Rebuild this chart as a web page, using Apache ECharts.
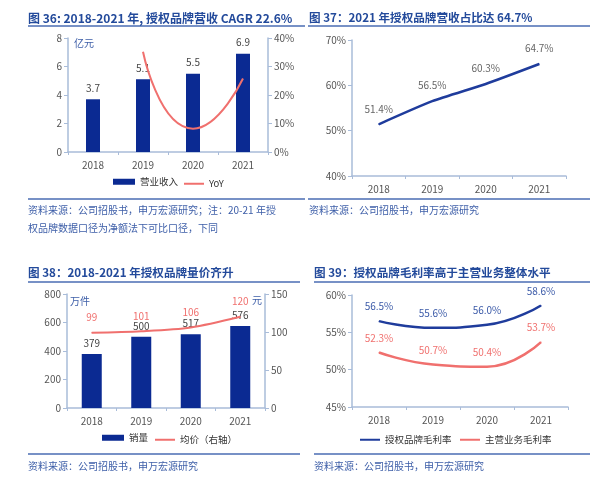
<!DOCTYPE html>
<html><head><meta charset="utf-8">
<script src="https://cdn.jsdelivr.net/npm/echarts@6/dist/echarts.min.js"></script>
<style>html,body{margin:0;padding:0;background:#fff}#c{width:600px;height:494px}</style>
</head><body><div id="c"></div>
<script>
const years = ['2018','2019','2020','2021'];
// Fig 36
const revenue = [3.7, 5.1, 5.5, 6.9];
const revenueYoY = ['-', 35.2, 8.2, 25.8];
// Fig 37
const share = [51.4, 56.5, 60.3, 64.7];
// Fig 38
const volume = [379, 500, 517, 576];
const avgPrice = [99, 101, 106, 120];
// Fig 39
const brandMargin = [56.5, 55.6, 56.0, 58.6];
const mainMargin = [52.3, 50.7, 50.4, 53.7];

const titles = ['图 36: 2018-2021 年, 授权品牌营收 CAGR 22.6%', '图 37：2021 年授权品牌营收占比达 64.7%', '图 38：2018-2021 年授权品牌量价齐升', '图 39：授权品牌毛利率高于主营业务整体水平'];
const sources = ['资料来源：公司招股书，申万宏源研究；注：20-21 年授', '权品牌数据口径为净额法下可比口径，下同', '资料来源：公司招股书，申万宏源研究'];
const units = ['亿元', '万件', '元'];

const FONT = '"Noto Sans CJK SC", "Noto Sans", sans-serif';
const BLUE = '#0b2a92';
const LINEBLUE = '#1f3c9c';
const RED = '#f0706e';
const AXIS = '#a9bcd9';
const TITLEC = '#234a9b';
const SRC = '#3d5ea8';
const LAB = '#555';

const chart = echarts.init(document.getElementById('c'));

function xAx(gi) {
  return {type:'category', gridIndex:gi, data:years, boundaryGap:true,
    axisLine:{lineStyle:{color:AXIS, width:1.5}},
    axisTick:{show:true, length:3, lineStyle:{color:AXIS}},
    axisLabel:{color:LAB, fontSize:10, fontFamily:FONT, margin:8}};
}
function yAx(gi, min, max, interval, fmt, pos) {
  return {type:'value', gridIndex:gi, min:min, max:max, interval:interval, position:pos||'left',
    splitLine:{show:false},
    axisLine:{show:true, lineStyle:{color:AXIS, width:1.5}},
    axisTick:{show:true, length:4, lineStyle:{color:AXIS}},
    axisLabel:{color:LAB, fontSize:10, fontFamily:FONT, margin:6, formatter:fmt||'{value}'}};
}

const lineStyleG = {stroke:'#4a6cb3', lineWidth:1.5};
function hline(x1,x2,y){return {type:'line', shape:{x1:x1,y1:y,x2:x2,y2:y}, style:lineStyleG, silent:true};}
function txt(x,y,t,size,color){return {type:'text', left:x, top:y, style:{text:t, fill:color||SRC, font:(size||10)+'px '+FONT}, silent:true};}

const legText = {color:'#333', fontSize:9.5, fontFamily:FONT};
function barLeg(left, top, name){return {left:left, top:top, padding:0, itemWidth:22, itemHeight:6, data:[{name:name, icon:'rect'}], textStyle:legText};}
function lineLeg(left, top, name){return {left:left, top:top, padding:0, itemWidth:20, itemHeight:2, data:[{name:name, icon:'rect'}], textStyle:legText};}

const pctFmt = p => p.value.toFixed(1) + '%';

const option = {
  animation:false,
  backgroundColor:'#fff',
  title: [
    {text:titles[0], left:28, top:12, fs:12},
    {text:titles[1], left:309, top:12, fs:11.6},
    {text:titles[2], left:28, top:267, fs:11.6},
    {text:titles[3], left:314, top:267, fs:11.6}
  ].map(t=>({text:t.text, left:t.left, top:t.top, padding:0, textStyle:{color:TITLEC, fontSize:t.fs, fontWeight:'bold', fontFamily:FONT}})),
  grid: [
    {left:68, top:38, width:200, height:114},
    {left:352, top:40, width:214, height:136},
    {left:67, top:294, width:198, height:114},
    {left:352, top:295, width:216, height:112}
  ],
  xAxis: [xAx(0), xAx(1), xAx(2), xAx(3)],
  yAxis: [
    yAx(0,0,8,2),
    yAx(0,0,40,10,'{value}%','right'),
    yAx(1,40,70,10,'{value}%'),
    yAx(2,0,800,200),
    yAx(2,0,150,50,'{value}','right'),
    yAx(3,45,60,5,'{value}%')
  ],
  legend: [
    barLeg(113, 177, '营业收入'),
    lineLeg(184, 179, 'YoY'),
    barLeg(102, 433, '销量'),
    lineLeg(155, 435, '均价（右轴）'),
    lineLeg(360, 435, '授权品牌毛利率'),
    lineLeg(460, 435, '主营业务毛利率')
  ],
  series: [
    {name:'营业收入', type:'bar', xAxisIndex:0, yAxisIndex:0, data:revenue, barWidth:14, itemStyle:{color:BLUE},
      label:{show:true, position:'top', color:'#444', fontSize:10, fontFamily:FONT, distance:6}},
    {name:'YoY', type:'line', xAxisIndex:0, yAxisIndex:1, data:revenueYoY, smooth:0.6, symbol:'none', lineStyle:{color:RED, width:2}, itemStyle:{color:RED}},
    {name:'占比', type:'line', xAxisIndex:1, yAxisIndex:2, data:share, smooth:0.2, symbol:'circle', symbolSize:1, lineStyle:{color:LINEBLUE, width:2.5}, itemStyle:{color:LINEBLUE},
      label:{show:true, position:'top', distance:10, color:'#666', fontSize:10, fontFamily:FONT, formatter:pctFmt}},
    {name:'销量', type:'bar', xAxisIndex:2, yAxisIndex:3, data:volume, barWidth:20, itemStyle:{color:BLUE},
      label:{show:true, position:'top', color:'#444', fontSize:10, fontFamily:FONT, distance:6}},
    {name:'均价（右轴）', type:'line', xAxisIndex:2, yAxisIndex:4, data:avgPrice, smooth:0.3, symbol:'circle', symbolSize:1, lineStyle:{color:RED, width:2}, itemStyle:{color:RED},
      label:{show:true, position:'top', distance:10, color:RED, fontSize:10, fontFamily:FONT}},
    {name:'授权品牌毛利率', type:'line', xAxisIndex:3, yAxisIndex:5, data:brandMargin, smooth:0.5, symbol:'circle', symbolSize:1, lineStyle:{color:LINEBLUE, width:2.5}, itemStyle:{color:LINEBLUE},
      label:{show:true, position:'top', distance:9, color:'#3b5aa8', fontSize:10, fontFamily:FONT, formatter:pctFmt}},
    {name:'主营业务毛利率', type:'line', xAxisIndex:3, yAxisIndex:5, data:mainMargin, smooth:0.5, symbol:'circle', symbolSize:1, lineStyle:{color:RED, width:2.5}, itemStyle:{color:RED},
      label:{show:true, position:'top', distance:9, color:RED, fontSize:10, fontFamily:FONT, formatter:pctFmt}}
  ],
  graphic: [
    hline(28,305,26), hline(308,590,26),
    hline(28,305,199), hline(308,590,199),
    hline(28,300,282), hline(314,590,282),
    hline(28,300,454), hline(314,590,454),
    txt(28,205,sources[0]), txt(28,223,sources[1]),
    txt(309,205,sources[2]),
    txt(28,461,sources[2]), txt(314,461,sources[2]),
    txt(74,38,units[0],10,SRC), txt(70,296,units[1],10,SRC), txt(252,295,units[2],10,SRC)
  ]
};
chart.setOption(option);
</script>
</body></html>
